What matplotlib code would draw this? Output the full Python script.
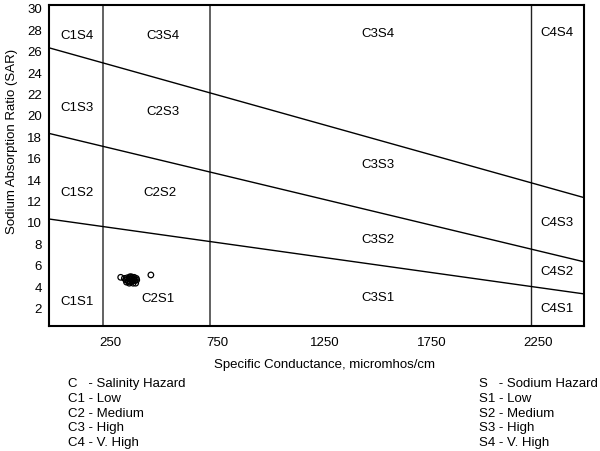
import matplotlib
matplotlib.use("Agg")
import matplotlib.pyplot as plt
import matplotlib.transforms as mtransforms

plt.rcParams['font.family'] = ['Liberation Sans', 'DejaVu Sans']
plt.rcParams['font.size'] = 9.5

# salinity class boundaries (specific conductance)
c_bounds = [250, 750, 2250]
# sodium hazard boundary lines: SAR at x=0 and x=2500
s_left = [26, 18, 10]
s_right = [12, 6, 3]

# zone labels: text, x, y
zone_txt = ["C1S4", "C3S4", "C3S4", "C4S4",
            "C1S3", "C2S3", "C3S3", "C4S3",
            "C1S2", "C2S2", "C3S2", "C4S2",
            "C1S1", "C2S1", "C3S1", "C4S1"]
zone_x = [130, 531, 1538, 2373,
          130, 531, 1538, 2373,
          130, 517, 1538, 2373,
          130, 508, 1538, 2373]
zone_y = [27.2, 27.2, 27.4, 27.5,
          20.5, 20.1, 15.1, 9.7,
          12.5, 12.5, 8.1, 5.1,
          2.3, 2.6, 2.7, 1.7]

# samples
cond = [335, 352, 360, 365, 370, 372, 378, 380, 384, 388, 390, 393, 396, 398,
        402, 405, 408, 375, 385, 395, 362, 410, 476]
sar = [4.55, 4.45, 4.3, 4.5, 4.2, 4.4, 4.6, 4.1, 4.35, 4.5, 4.2, 4.0, 4.4, 4.55,
       4.25, 4.0, 4.45, 4.0, 4.6, 4.3, 4.1, 4.3, 4.77]

xticks = [250, 750, 1250, 1750, 2250]
yticks = [2, 4, 6, 8, 10, 12, 14, 16, 18, 20, 22, 24, 26, 28, 30]

left_leg = ["C   - Salinity Hazard", "C1 - Low", "C2 - Medium", "C3 - High", "C4 - V. High"]
right_leg = ["S   - Sodium Hazard", "S1 - Low", "S2 - Medium", "S3 - High", "S4 - V. High"]

fig = plt.figure(figsize=(6, 4.52), dpi=100)
ax = fig.add_axes([49/600, 1-327/452, 535/600, 321/452])
ax.set_xlim(0, 2500)
ax.set_ylim(0, 30)

for i, c in enumerate(c_bounds):
    if i < 2:
        ax.axvline(c, color='#555555', lw=1.3)
    else:
        ax.axvline(c, color='#222222', lw=1.0)
for a, b in zip(s_left, s_right):
    ax.plot([0, 2500], [a, b], color='black', lw=1.0)

for t, x, y in zip(zone_txt, zone_x, zone_y):
    ax.text(x, y, t, ha='center', va='center')

ax.scatter(cond, sar, s=16, facecolors='none', edgecolors='black', linewidths=0.9, zorder=3)

ax.set_xticks(xticks)
ax.set_yticks(yticks)
ax.tick_params(length=0, pad=7)
ax.tick_params(axis='y', pad=5)
off = mtransforms.ScaledTranslation(8/100, 0, fig.dpi_scale_trans)
for lab in ax.get_xticklabels():
    lab.set_transform(lab.get_transform() + off)
offy = mtransforms.ScaledTranslation(0, -3/100, fig.dpi_scale_trans)
for lab in ax.get_yticklabels():
    lab.set_transform(lab.get_transform() + offy)
for s in ax.spines.values():
    s.set_linewidth(1.5)

fig.text(325/600, 1-365/452, "Specific Conductance, micromhos/cm", ha='center', va='center')
fig.text(12/600, 1-141/452, "Sodium Absorption Ratio (SAR)", rotation=90, ha='center', va='center')

for i, t in enumerate(left_leg):
    fig.text(68/600, 1-(384 + 14.8*i)/452, t, ha='left', va='center')
for i, t in enumerate(right_leg):
    fig.text(479/600, 1-(384 + 14.8*i)/452, t, ha='left', va='center')

fig.savefig("out.png", dpi=100)
